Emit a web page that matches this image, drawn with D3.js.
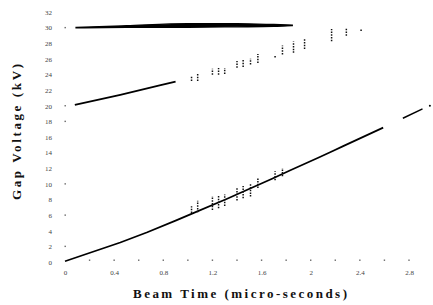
<!DOCTYPE html>
<html>
<head>
<meta charset="utf-8">
<script src="https://cdn.jsdelivr.net/npm/d3@7"></script>
<style>
  html, body { margin: 0; padding: 0; background: #fff; }
  svg { display: block; }
</style>
</head>
<body>
<div id="chart"></div>
<script>
const serif = "'Liberation Serif', 'Times New Roman', 'DejaVu Serif', serif";

// tick labels
const xTicks = [0, 0.4, 0.8, 1.2, 1.6, 2, 2.4, 2.8];
const xMinor = [0.2, 0.4, 0.6, 0.8, 1.0, 1.2, 1.4, 1.6, 1.8, 2.0, 2.2, 2.4, 2.6, 2.8];
const yTicks = [0, 2, 4, 6, 8, 10, 12, 14, 16, 18, 20, 22, 24, 26, 28, 30, 32];
const yDots  = [30, 20, 18, 10, 6, 2];

// top trace (~30 kV): thick band, low / high edge
const topT  = [0.09, 0.5, 1.0, 1.4, 1.7, 1.85];
const topLo = [29.97, 30.05, 30.05, 30.1, 30.15, 30.25];
const topHi = [30.03, 30.25, 30.5, 30.5, 30.4, 30.33];

// middle trace starting at 20 kV
const midT = [0.08, 0.45, 0.77, 0.9];
const midV = [20.1, 21.4, 22.6, 23.1];

// lower trace starting at 0 kV (two pieces)
const lowT1 = [0.0, 0.45, 0.67, 0.9, 1.02, 1.32, 1.42, 1.69, 1.83, 2.07, 2.18, 2.26, 2.59];
const lowV1 = [0.1, 2.5, 3.8, 5.3, 6.1, 8.1, 8.8, 10.7, 11.7, 13.4, 14.2, 14.8, 17.2];
const lowT2 = [2.75, 2.91];
const lowV2 = [18.4, 19.6];

// scattered sample columns (time, min, max)
const colT    = [1.03, 1.08, 1.20, 1.25, 1.30, 1.40, 1.45, 1.51, 1.57, 1.71, 1.77, 1.86, 1.95, 2.17, 2.29, 2.41];
const midMin  = [23.3, 23.3, 24.1, 24.1, 24.2, 25.0, 25.1, 25.4, 25.6, 26.3, 26.7, 26.9, 27.4, 28.4, 29.1, 29.7];
const midMax  = [23.7, 24.0, 24.6, 24.7, 24.7, 25.6, 25.8, 25.9, 26.5, 26.4, 27.6, 28.1, 28.4, 29.7, 29.8, 29.8];
const lowColT = [1.03, 1.08, 1.20, 1.25, 1.30, 1.40, 1.45, 1.51, 1.57, 1.71, 1.77];
const lowMin  = [6.4, 6.5, 6.8, 7.0, 7.3, 8.0, 8.3, 8.5, 9.6, 10.6, 11.1];
const lowMax  = [7.0, 7.7, 8.3, 8.4, 8.5, 9.3, 9.6, 9.9, 10.6, 11.5, 11.9];
const endDot  = [2.97, 20.0];

const W = 433, H = 305;
const svg = d3.select("#chart").append("svg").attr("width", W).attr("height", H);

const x = d3.scaleLinear().domain([0, 2.8]).range([65, 409]);
const y = d3.scaleLinear().domain([0, 32]).range([262, 12]);

// axes: only faint tick dots, no domain line
const xAxis = svg.append("g")
  .attr("transform", "translate(0,261)")
  .call(d3.axisBottom(x).tickValues(xTicks).tickSize(0).tickPadding(9)
    .tickFormat(d => d === 0 ? "0" : d3.format("~g")(d)));
xAxis.select(".domain").remove();

const yAxis = svg.append("g")
  .attr("transform", "translate(55,0)")
  .call(d3.axisLeft(y).tickValues(yTicks).tickSize(0).tickPadding(3));
yAxis.select(".domain").remove();

svg.selectAll(".tick text")
  .style("font-family", serif)
  .style("font-size", "7px")
  .style("fill", "#444");

svg.append("g").selectAll("rect")
  .data(xMinor)
  .join("rect")
  .attr("x", d => x(d) - 0.7).attr("y", 259.5)
  .attr("width", 1.4).attr("height", 1.4)
  .attr("fill", "#666");

svg.append("g").selectAll("rect")
  .data(yDots)
  .join("rect")
  .attr("x", 64.5).attr("y", d => y(d) - 0.7)
  .attr("width", 1.4).attr("height", 1.4)
  .attr("fill", "#666");

// top band
const band = d3.area()
  .x((d, i) => x(topT[i]))
  .y0((d, i) => y(topLo[i]))
  .y1((d, i) => y(topHi[i]))
  .curve(d3.curveMonotoneX);
svg.append("path")
  .attr("d", band(topT))
  .attr("fill", "#000")
  .attr("stroke", "#000")
  .attr("stroke-width", 1.3);

const line = d3.line().x(d => x(d[0])).y(d => y(d[1]));

svg.append("path")
  .attr("d", line(midT.map((t, i) => [t, midV[i]])))
  .attr("fill", "none").attr("stroke", "#000").attr("stroke-width", 1.8);

svg.append("path")
  .attr("d", line(lowT1.map((t, i) => [t, lowV1[i]])))
  .attr("fill", "none").attr("stroke", "#000").attr("stroke-width", 1.7);

svg.append("path")
  .attr("d", line(lowT2.map((t, i) => [t, lowV2[i]])))
  .attr("fill", "none").attr("stroke", "#000").attr("stroke-width", 1.5);

svg.append("circle")
  .attr("cx", x(endDot[0])).attr("cy", y(endDot[1])).attr("r", 1)
  .attr("fill", "#000");

// dotted sample columns
function columns(ts, lo, hi) {
  svg.append("g").selectAll("line")
    .data(ts)
    .join("line")
    .attr("x1", d => x(d)).attr("x2", d => x(d))
    .attr("y1", (d, i) => y(lo[i]) + 1)
    .attr("y2", (d, i) => y(hi[i]) - 1)
    .attr("stroke", "#111")
    .attr("stroke-width", 1.5)
    .attr("stroke-dasharray", "1.5,1.2");
}
columns(colT, midMin, midMax);
columns(lowColT, lowMin, lowMax);

// titles
svg.append("text")
  .attr("x", 240).attr("y", 298)
  .attr("text-anchor", "middle")
  .attr("textLength", 214).attr("lengthAdjust", "spacing")
  .style("font-family", serif).style("font-weight", "bold")
  .style("font-size", "13px").style("fill", "#111")
  .text("Beam Time (micro-seconds)");

svg.append("text")
  .attr("transform", "translate(21,132) rotate(-90)")
  .attr("text-anchor", "middle")
  .attr("textLength", 136).attr("lengthAdjust", "spacing")
  .style("font-family", serif).style("font-weight", "bold")
  .style("font-size", "13px").style("fill", "#111")
  .text("Gap Voltage (kV)");
</script>
</body>
</html>
